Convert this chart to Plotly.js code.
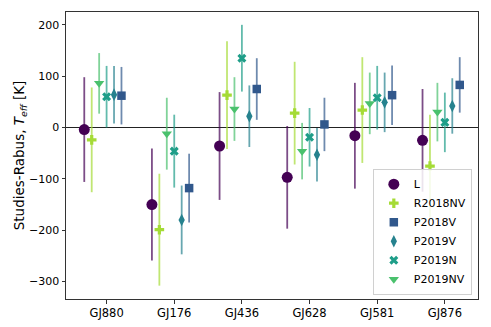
<!DOCTYPE html>
<html>
<head>
<meta charset="utf-8">
<script src="https://cdn.plot.ly/plotly-3.0.1.min.js"></script>
<style>
  body { margin: 0; padding: 0; background: #fff; }
  #myDiv { width: 491px; height: 327px; }
</style>
</head>
<body>
<div id="myDiv"></div>
<script>
// stars on the x axis
var stars = ["GJ880", "GJ176", "GJ436", "GJ628", "GJ581", "GJ876"];

// Teff difference (study - Rabus) and its error, one pair per study
var L_vals = [-4, -150, -36, -97, -16, -25];
var L_err = [102, 109, 105, 100, 103, 100];
var R2018NV_vals = [-24, -199, 63, 28, 34, -75];
var R2018NV_err = [102, 109, 105, 100, 103, 100];
var P2018V_vals = [62, -118, 75, 6, 63, 83];
var P2018V_err = [56, 67, 60, 52, 58, 54];
var P2019V_vals = [64, -180, 22, -53, 49, 42];
var P2019V_err = [56, 67, 60, 52, 58, 54];
var P2019N_vals = [60, -46, 135, -19, 58, 10];
var P2019N_err = [60, 71, 65, 57, 62, 58];
var P2019NV_vals = [86, -12, 36, -46, 47, 30];
var P2019NV_err = [59, 70, 62, 55, 60, 57];

// name, values, errors, colour, symbol, size, offset from the tick
var series = [
  ["L", L_vals, L_err, "#440154", "circle", 11, -0.33],
  ["R2018NV", R2018NV_vals, R2018NV_err, "#a5db36", "cross", 8, -0.22],
  ["P2018V", P2018V_vals, P2018V_err, "#31588c", "square", 8.5, 0.22],
  ["P2019V", P2019V_vals, P2019V_err, "#26828e", "diamond-tall", 9, 0.11],
  ["P2019N", P2019N_vals, P2019N_err, "#1f9e89", "x", 8, 0],
  ["P2019NV", P2019NV_vals, P2019NV_err, "#4ac16d", "triangle-down", 9, -0.11]
];

function fade(hex, a) {
  var r = parseInt(hex.slice(1, 3), 16);
  var g = parseInt(hex.slice(3, 5), 16);
  var b = parseInt(hex.slice(5, 7), 16);
  return "rgba(" + r + "," + g + "," + b + "," + a + ")";
}

var data = series.map(function (s) {
  return {
    x: stars.map(function (_, i) { return i + s[6]; }),
    y: s[1],
    name: s[0],
    type: "scatter",
    mode: "markers",
    marker: { color: s[3], symbol: s[4], size: s[5], line: { width: 0 } },
    error_y: { type: "data", array: s[2], visible: true,
               color: fade(s[3], 0.7), thickness: 1.8, width: 0 },
    hoverinfo: "name+y"
  };
});

var layout = {
  width: 491,
  height: 327,
  margin: { l: 66, r: 13, t: 12, b: 28 },
  paper_bgcolor: "#fff",
  plot_bgcolor: "#fff",
  font: { family: "DejaVu Sans", size: 11, color: "#000" },
  showlegend: true,
  legend: {
    x: 0.985, y: 0.015, xanchor: "right", yanchor: "bottom",
    bordercolor: "#d0d0d0", borderwidth: 1, bgcolor: "rgba(255,255,255,0.85)",
    font: { size: 11 }, tracegroupgap: 0
  },
  xaxis: {
    range: [-0.6, 5.49],
    tickvals: [0, 1, 2, 3, 4, 5],
    ticktext: stars,
    ticks: "outside", ticklen: 3.5, tickcolor: "#333",
    showgrid: false, zeroline: false,
    showline: true, mirror: true, linecolor: "#333", linewidth: 1,
    tickfont: { size: 11.5 }
  },
  yaxis: {
    range: [-334, 225],
    tickvals: [-300, -200, -100, 0, 100, 200],
    ticktext: ["\u2212300", "\u2212200", "\u2212100", "0", "100", "200"],
    ticks: "outside", ticklen: 3.5, tickcolor: "#333",
    showgrid: false,
    zeroline: true, zerolinecolor: "#222", zerolinewidth: 1.2,
    showline: true, mirror: true, linecolor: "#333", linewidth: 1,
    tickfont: { size: 11 },
    title: { text: "Studies-Rabus, <i>T</i><sub><i>eff</i></sub> [K]",
             font: { size: 13.5 }, standoff: 1 }
  }
};

Plotly.newPlot("myDiv", data, layout, { displayModeBar: false });
</script>
</body>
</html>
